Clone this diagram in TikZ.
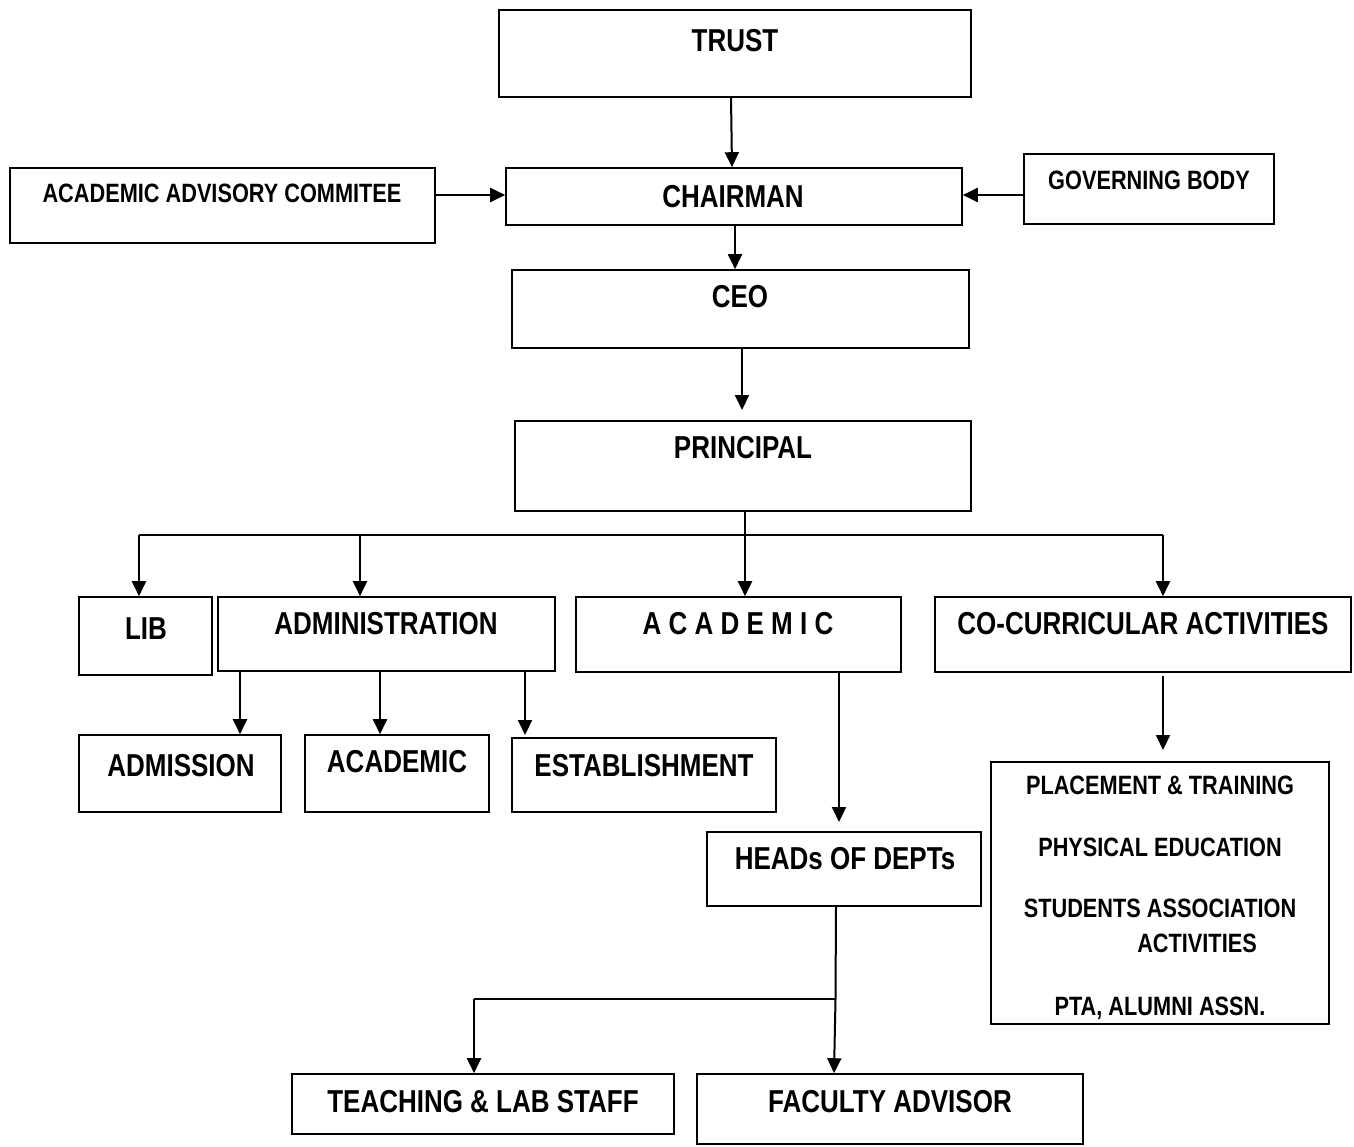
\documentclass[tikz,border=0pt]{standalone}
\usepackage{fontspec}
\setmainfont{Liberation Sans}[FakeStretch=0.82]
\usetikzlibrary{arrows.meta,fit,calc}
\begin{document}
\begin{tikzpicture}[x=1pt,y=-1pt,
  box/.style={draw, line width=1.6pt, inner sep=0pt},
  big/.style={font=\fontsize{31.7}{36}\selectfont\bfseries, inner sep=0pt, text height=22.5pt, text depth=0pt},
  small/.style={font=\fontsize{26.5}{30}\selectfont\bfseries, inner sep=0pt, text height=19pt, text depth=0pt},
  arr/.style={line width=2pt, -{Triangle[length=15pt,width=14pt]}},
  ln/.style={line width=2pt}]
\useasboundingbox[fill=white] (0,0) rectangle (1354,1146);

% boxes
\node[box, fit={(499,10) (971,97)}] (trust) {};
\node[box, fit={(10,168) (435,243)}] (aac) {};
\node[box, fit={(506,168) (962,225)}] (chair) {};
\node[box, fit={(1024,154) (1274,224)}] (gb) {};
\node[box, fit={(512,270) (969,348)}] (ceo) {};
\node[box, fit={(515,421) (971,511)}] (prin) {};
\node[box, fit={(79,597) (212,675)}] (lib) {};
\node[box, fit={(218,597) (555,671)}] (admin) {};
\node[box, fit={(576,597) (901,672)}] (acad) {};
\node[box, fit={(935,597) (1351,672)}] (cocur) {};
\node[box, fit={(79,735) (281,812)}] (admis) {};
\node[box, fit={(305,735) (489,812)}] (acad2) {};
\node[box, fit={(512,738) (776,812)}] (estab) {};
\node[box, fit={(707,832) (981,906)}] (heads) {};
\node[box, fit={(991,762) (1329,1024)}] (list) {};
\node[box, fit={(292,1074) (674,1134)}] (teach) {};
\node[box, fit={(697,1074) (1083,1144)}] (fac) {};

% texts
\node[big] (t-trust) at (735,40) {TRUST};
\node[small] (t-aac) at (222,193) {ACADEMIC ADVISORY COMMITEE};
\node[big] (t-chair) at (733,196) {CHAIRMAN};
\node[small] (t-gb) at (1149,180) {GOVERNING BODY};
\node[big] (t-ceo) at (740,296) {CEO};
\node[big] (t-prin) at (743,447) {PRINCIPAL};
\node[big] (t-lib) at (146,628) {LIB};
\node[big] (t-admin) at (386,623) {ADMINISTRATION};
\node[big] (t-acad) at (738,623) {A C A D E M I C};
\node[big] (t-cocur) at (1143,623) {CO-CURRICULAR ACTIVITIES};
\node[big] (t-admis) at (181,765) {ADMISSION};
\node[big] (t-acad2) at (397,761) {ACADEMIC};
\node[big] (t-estab) at (644,765) {ESTABLISHMENT};
\node[big] (t-heads) at (845,858) {HEADs OF DEPTs};
\node[small] (t-l1) at (1160,785) {PLACEMENT \& TRAINING};
\node[small] (t-l2) at (1160,847) {PHYSICAL EDUCATION};
\node[small] (t-l3) at (1160,908) {STUDENTS ASSOCIATION};
\node[small] (t-l4) at (1197,943) {ACTIVITIES};
\node[small] (t-l5) at (1160,1006) {PTA, ALUMNI ASSN.};
\node[big] (t-teach) at (483,1101) {TEACHING \& LAB STAFF};
\node[big] (t-fac) at (890,1101) {FACULTY ADVISOR};

% connectors
\draw[arr] ([xshift=-4pt]trust.south) -- ([xshift=-2pt]chair.north);
\draw[arr] (aac.east |- 0,195) -- (chair.west |- 0,195);
\draw[arr] (gb.west |- 0,195) -- (chair.east |- 0,195);
\draw[arr] (735,0 |- chair.south) -- (735,0 |- ceo.north);
\draw[arr] (742,0 |- ceo.south) -- (742,410);

\coordinate (bus) at (745,535);
\coordinate (busL) at (139,535);
\coordinate (busA) at (360,535);
\coordinate (busR) at (1163,535);
\draw[ln] (745,0 |- prin.south) -- (bus);
\draw[ln] (busL) -- (busR);
\draw[arr] (busL) -- (busL |- lib.north);
\draw[arr] (busA) -- (busA |- admin.north);
\draw[arr] (bus) -- (bus |- acad.north);
\draw[arr] (busR) -- (busR |- cocur.north);

\draw[arr] (240,0 |- admin.south) -- (240,0 |- admis.north);
\draw[arr] (380,0 |- admin.south) -- (380,0 |- acad2.north);
\draw[arr] (525,0 |- admin.south) -- (525,735);

\draw[arr] (839,0 |- acad.south) -- (839,822);
\draw[arr] (1163,676) -- (1163,750);

\coordinate (hj) at (835.5,999);
\coordinate (tj) at (474,999);
\draw[ln] (836,0 |- heads.south) -- (hj);
\draw[arr] (hj) -- (834,0 |- fac.north);
\draw[ln] (hj) -- (tj);
\draw[arr] (tj) -- (tj |- teach.north);
\end{tikzpicture}
\end{document}
